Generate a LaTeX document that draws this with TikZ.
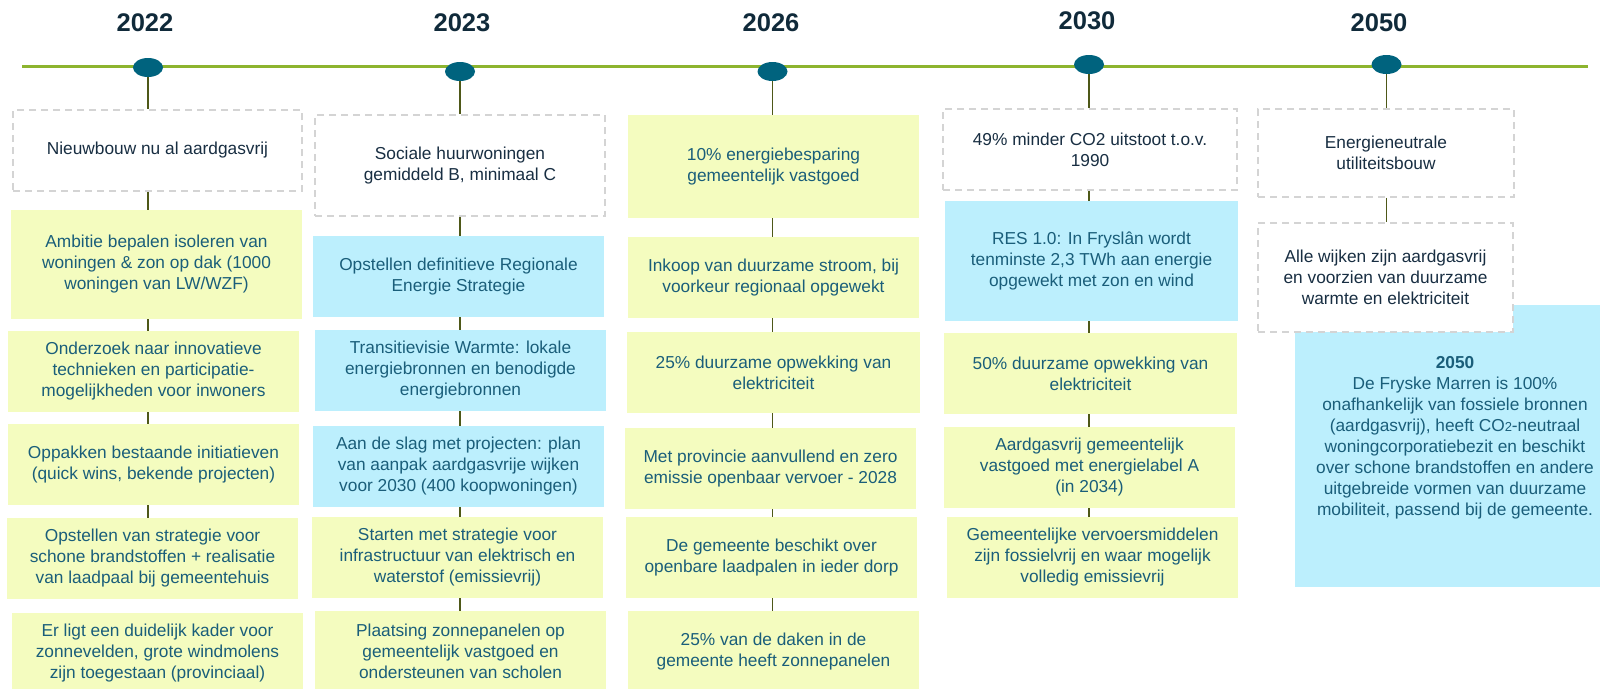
\documentclass[tikz,border=0pt]{standalone}
\usepackage{fontspec}
\setmainfont{Liberation Sans}
\usetikzlibrary{shapes.geometric}

\definecolor{yearcol}{RGB}{16,42,58}
\definecolor{dotcol}{RGB}{0,99,126}
\definecolor{linecol}{RGB}{141,180,47}
\definecolor{linkcol}{RGB}{78,88,24}
\definecolor{dashgray}{RGB}{212,212,212}
\definecolor{navytxt}{RGB}{24,46,66}
\definecolor{tealtxt}{RGB}{26,94,122}
\definecolor{yelfill}{RGB}{244,252,191}
\definecolor{bluefill}{RGB}{188,239,253}

\begin{document}
\begin{tikzpicture}[x=1pt,y=-1pt,
	year/.style={font=\fontsize{25.5}{30}\selectfont\bfseries,text=yearcol},
	dot/.style={ellipse,fill=dotcol,minimum width=30pt,minimum height=19pt,inner sep=0pt},
	boxtext/.style={align=center,inner sep=0pt,font=\fontsize{17.3}{21}\selectfont},
	dashbox/.style={boxtext,draw=dashgray,dashed,dash pattern=on 7pt off 5pt,line width=1.5pt,fill=white,text=navytxt},
	yelbox/.style={boxtext,fill=yelfill,text=tealtxt},
	bluebox/.style={boxtext,fill=bluefill,text=tealtxt},
	link/.style={draw=linkcol,line width=1.8pt}]
	
	\useasboundingbox (0,0) rectangle (1600,688);
	
	% timeline
	\coordinate (tlstart) at (22,66.5);
	\coordinate (tlend) at (1588,66.5);
	\draw[draw=linecol,line width=2.2pt] (tlstart) -- (tlend);
	
	\node[year] (year1) at (145,23) {2022};
	\node[year] (year2) at (462,23) {2023};
	\node[year] (year3) at (771,23) {2026};
	\node[year] (year4) at (1087,21) {2030};
	\node[year] (year5) at (1379,23) {2050};
	
	\node[dot] (dot1) at (148,67.5) {};
	\node[dot] (dot2) at (460,71.5) {};
	\node[dot] (dot3) at (772.5,71.5) {};
	\node[dot] (dot4) at (1089,64.5) {};
	\node[dot] (dot5) at (1386.5,64.5) {};
	
	% 2022
	\node[dashbox,minimum width=289pt,minimum height=81pt] (col11) at (157.5,150.5) {Nieuwbouw nu al aardgasvrij};
	\node[yelbox,minimum width=291pt,minimum height=109pt] (col12) at (156.5,264.5) {Ambitie bepalen isoleren van\\woningen \& zon op dak (1000\\woningen van LW/WZF)};
	\node[yelbox,minimum width=291pt,minimum height=81pt] (col13) at (153.5,371.5) {Onderzoek naar innovatieve\\technieken en participatie-\\mogelijkheden voor inwoners};
	\node[yelbox,minimum width=291pt,minimum height=81pt] (col14) at (153.5,464.5) {Oppakken bestaande initiatieven\\(quick wins, bekende projecten)};
	\node[yelbox,minimum width=291pt,minimum height=81pt] (col15) at (152.5,558.5) {Opstellen van strategie voor\\schone brandstoffen + realisatie\\van laadpaal bij gemeentehuis};
	\node[yelbox,minimum width=291pt,minimum height=81pt] (col16) at (157.5,653.5) {Er ligt een duidelijk kader voor\\zonnevelden, grote windmolens\\zijn toegestaan (provinciaal)};
	
	% 2023
	\node[dashbox,minimum width=290pt,minimum height=101pt] (col21) at (460,165.5) {Sociale huurwoningen\\gemiddeld B, minimaal C};
	\node[bluebox,minimum width=291pt,minimum height=81pt] (col22) at (458.5,276.5) {Opstellen definitieve Regionale\\Energie Strategie};
	\node[bluebox,minimum width=291pt,minimum height=81pt] (col23) at (460.5,370.5) {Transitievisie Warmte: lokale\\energiebronnen en benodigde\\energiebronnen};
	\node[bluebox,minimum width=291pt,minimum height=81pt] (col24) at (458.5,466.5) {Aan de slag met projecten: plan\\van aanpak aardgasvrije wijken\\voor 2030 (400 koopwoningen)};
	\node[yelbox,minimum width=291pt,minimum height=81pt] (col25) at (457.5,557.5) {Starten met strategie voor\\infrastructuur van elektrisch en\\waterstof (emissievrij)};
	\node[yelbox,minimum width=291pt,minimum height=81pt] (col26) at (460.5,651.5) {Plaatsing zonnepanelen op\\gemeentelijk vastgoed en\\ondersteunen van scholen};
	
	% 2026
	\node[yelbox,minimum width=291pt,minimum height=103pt] (col31) at (773.5,166.5) {10\% energiebesparing\\gemeentelijk vastgoed};
	\node[yelbox,minimum width=291pt,minimum height=81pt] (col32) at (773.5,277.5) {Inkoop van duurzame stroom, bij\\voorkeur regionaal opgewekt};
	\node[yelbox,minimum width=293pt,minimum height=81pt] (col33) at (773.5,372.5) {25\% duurzame opwekking van\\elektriciteit};
	\node[yelbox,minimum width=291pt,minimum height=81pt] (col34) at (770.5,468.5) {Met provincie aanvullend en zero\\emissie openbaar vervoer - 2028};
	\node[yelbox,minimum width=291pt,minimum height=81pt] (col35) at (771.5,557.5) {De gemeente beschikt over\\openbare laadpalen in ieder dorp};
	\node[yelbox,minimum width=291pt,minimum height=81pt] (col36) at (773.5,651.5) {25\% van de daken in de\\gemeente heeft zonnepanelen};
	
	% 2030
	\node[dashbox,minimum width=294pt,minimum height=81pt] (col41) at (1090,149.5) {49\% minder CO2 uitstoot t.o.v.\\1990};
	\node[bluebox,minimum width=293pt,minimum height=120pt] (col42) at (1091.5,261) {RES 1.0: In Fryslân wordt\\tenminste 2,3 TWh aan energie\\opgewekt met zon en wind};
	\node[yelbox,minimum width=293pt,minimum height=81pt] (col43) at (1090.5,373.5) {50\% duurzame opwekking van\\elektriciteit};
	\node[yelbox,minimum width=291pt,minimum height=81pt] (col44) at (1089.5,467.5) {Aardgasvrij gemeentelijk\\vastgoed met energielabel A\\(in 2034)};
	\node[yelbox,minimum width=291pt,minimum height=81pt] (col45) at (1092.5,557.5) {Gemeentelijke vervoersmiddelen\\zijn fossielvrij en waar mogelijk\\volledig emissievrij};
	
	% 2050
	\node[bluebox,minimum width=320pt,minimum height=282pt] (col53) at (1455,446) {};
	\node[boxtext,text=tealtxt] (col531) at ([yshift=8pt]col53.center) {\textbf{2050}\\De Fryske Marren is 100\%\\onafhankelijk van fossiele bronnen\\(aardgasvrij), heeft CO{\fontsize{13}{13}\selectfont 2}-neutraal\\woningcorporatiebezit en beschikt\\over schone brandstoffen en andere\\uitgebreide vormen van duurzame\\mobiliteit, passend bij de gemeente.};
	\node[dashbox,minimum width=256pt,minimum height=88pt] (col51) at (1386,153) {Energieneutrale\\utiliteitsbouw};
	\node[dashbox,minimum width=255pt,minimum height=109pt] (col52) at (1385.5,277.5) {Alle wijken zijn aardgasvrij\\en voorzien van duurzame\\warmte en elektriciteit};
	
	% stems
	\draw[link] (dot1.south) -- (col11.north -| dot1);
	\draw[link] (col11.south -| dot1) -- (col12.north -| dot1);
	\draw[link] (col12.south -| dot1) -- (col13.north -| dot1);
	\draw[link] (col13.south -| dot1) -- (col14.north -| dot1);
	\draw[link] (col14.south -| dot1) -- (col15.north -| dot1);
	
	\draw[link] (dot2.south) -- (col21.north -| dot2);
	\draw[link] (col21.south -| dot2) -- (col22.north -| dot2);
	\draw[link] (col22.south -| dot2) -- (col23.north -| dot2);
	\draw[link] (col23.south -| dot2) -- (col24.north -| dot2);
	\draw[link] (col24.south -| dot2) -- (col25.north -| dot2);
	\draw[link] (col25.south -| dot2) -- (col26.north -| dot2);
	
	\draw[link] (dot3.south) -- (col31.north -| dot3);
	\draw[link] (col31.south -| dot3) -- (col32.north -| dot3);
	\draw[link] (col32.south -| dot3) -- (col33.north -| dot3);
	\draw[link] (col33.south -| dot3) -- (col34.north -| dot3);
	\draw[link] (col34.south -| dot3) -- (col35.north -| dot3);
	\draw[link] (col35.south -| dot3) -- (col36.north -| dot3);
	
	\draw[link] (dot4.south) -- (col41.north -| dot4);
	\draw[link] (col41.south -| dot4) -- (col42.north -| dot4);
	\draw[link] (col42.south -| dot4) -- (col43.north -| dot4);
	\draw[link] (col43.south -| dot4) -- (col44.north -| dot4);
	\draw[link] (col44.south -| dot4) -- (col45.north -| dot4);
	
	\draw[link] (dot5.south) -- (col51.north -| dot5);
	\draw[link] (col51.south -| dot5) -- (col52.north -| dot5);
	
\end{tikzpicture}
\end{document}
